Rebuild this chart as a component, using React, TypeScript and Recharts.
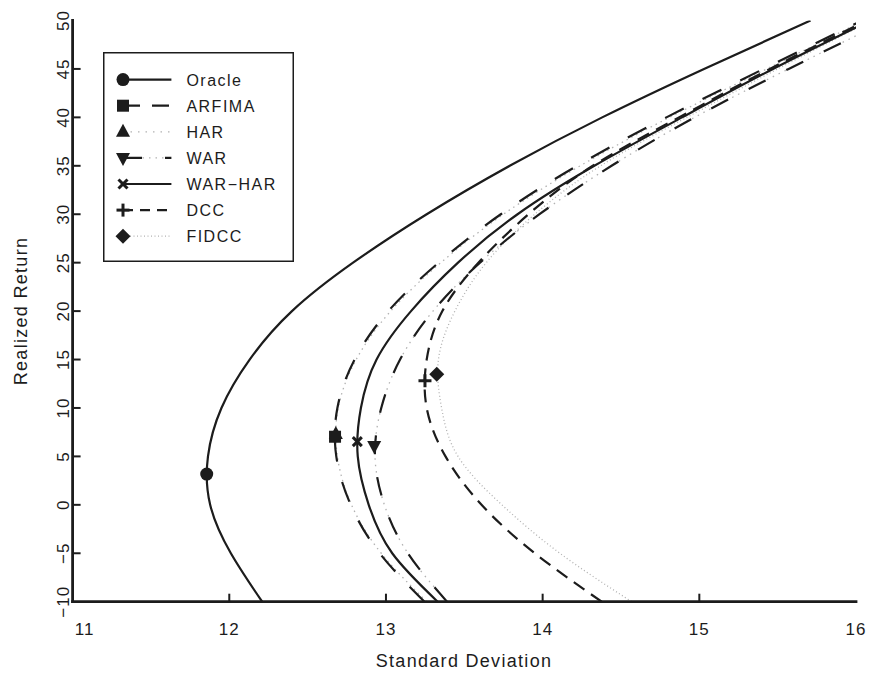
import { Legend, Line, LineChart, XAxis, YAxis } from 'recharts'

const returnGrid = [-10, -5, 0, 5, 10, 15, 20, 25, 30, 35, 40, 45, 50]
const xTicks = [11, 12, 13, 14, 15, 16]
const yTicks = [-10, -5, 0, 5, 10, 15, 20, 25, 30, 35, 40, 45, 50]

const oracleSd = [12.21, 12.01, 11.878, 11.864, 11.95, 12.13, 12.4, 12.79, 13.26, 13.79, 14.38, 15.03, 15.71]
const arfimaSd = [13.246, 12.96, 12.775, 12.683, 12.69, 12.8, 13.015, 13.336, 13.733, 14.22, 14.79, 15.41, 16.04]
const harSd = [13.26, 12.97, 12.78, 12.69, 12.695, 12.81, 13.03, 13.35, 13.75, 14.24, 14.81, 15.43, 16.05]
const warSd = [13.39, 13.14, 12.99, 12.93, 12.97, 13.09, 13.3, 13.6, 13.98, 14.44, 14.97, 15.57, 16.2]
const warHarSd = [13.33, 13.04, 12.89, 12.82, 12.84, 12.94, 13.16, 13.46, 13.84, 14.33, 14.89, 15.47, 16.09]
const dccSd = [14.377, 13.95, 13.61, 13.38, 13.26, 13.26, 13.36, 13.59, 13.91, 14.32, 14.87, 15.45, 16.07]
const fidccSd = [14.568, 14.11, 13.74, 13.46, 13.355, 13.335, 13.44, 13.64, 13.95, 14.37, 14.92, 15.5, 16.1]

// minimum variance point marked on each frontier
// order: Oracle, ARFIMA, HAR, WAR, WAR-HAR, DCC, FIDCC
const minSd = [11.856, 12.675, 12.68, 12.925, 12.817, 13.249, 13.324]
const minRet = [3.18, 7.03, 7.3, 6.07, 6.52, 12.81, 13.47]

const INK = '#1c1c1c'
const GRAY = '#b2b2b2'
const FONT = '"Liberation Sans", Arial, sans-serif'

type Shape = 'circle' | 'square' | 'triUp' | 'triDown' | 'cross' | 'plus' | 'diamond'

function Marker({ shape, cx, cy }: { shape: Shape; cx: number; cy: number }) {
  switch (shape) {
    case 'circle':
      return <circle cx={cx} cy={cy} r={6.5} fill={INK} />
    case 'square':
      return <rect x={cx - 6} y={cy - 6} width={12} height={12} fill={INK} />
    case 'triUp':
      return <polygon points={`${cx},${cy - 8} ${cx + 7},${cy + 5} ${cx - 7},${cy + 5}`} fill={INK} />
    case 'triDown':
      return <polygon points={`${cx},${cy + 8} ${cx + 7},${cy - 5} ${cx - 7},${cy - 5}`} fill={INK} />
    case 'cross':
      return (
        <g stroke={INK} strokeWidth={3}>
          <line x1={cx - 4.5} y1={cy - 4.5} x2={cx + 4.5} y2={cy + 4.5} />
          <line x1={cx - 4.5} y1={cy + 4.5} x2={cx + 4.5} y2={cy - 4.5} />
        </g>
      )
    case 'plus':
      return (
        <g stroke={INK} strokeWidth={3}>
          <line x1={cx - 6.5} y1={cy} x2={cx + 6.5} y2={cy} />
          <line x1={cx} y1={cy - 6.5} x2={cx} y2={cy + 6.5} />
        </g>
      )
    default:
      return <polygon points={`${cx},${cy - 7.5} ${cx + 7.5},${cy} ${cx},${cy + 7.5} ${cx - 7.5},${cy}`} fill={INK} />
  }
}

type Series = {
  name: string
  sd: number[]
  idx: number
  shape: Shape
  stroke: string
  width: number
  dash?: string
  legendDash?: string
  dots?: string
}

const series: Series[] = [
  { name: 'Oracle', sd: oracleSd, idx: 0, shape: 'circle', stroke: INK, width: 2.2 },
  { name: 'ARFIMA', sd: arfimaSd, idx: 1, shape: 'square', stroke: INK, width: 2.2, dash: '21 21', legendDash: '17 12' },
  { name: 'HAR', sd: harSd, idx: 2, shape: 'triUp', stroke: GRAY, width: 1.3, dash: '1.5 4', legendDash: '1.5 6' },
  { name: 'WAR', sd: warSd, idx: 3, shape: 'triDown', stroke: INK, width: 2.2, dash: '19 23', legendDash: '19 23', dots: '1.5 5' },
  { name: 'WAR\u2212HAR', sd: warHarSd, idx: 4, shape: 'cross', stroke: INK, width: 2.2 },
  { name: 'DCC', sd: dccSd, idx: 5, shape: 'plus', stroke: INK, width: 2.2, dash: '13 8', legendDash: '10 7' },
  { name: 'FIDCC', sd: fidccSd, idx: 6, shape: 'diamond', stroke: GRAY, width: 1.3, dash: '1 2.5', legendDash: '1 2.5' },
]

// light lines first so the black ones sit on top
const drawOrder = ['HAR', 'FIDCC', 'Oracle', 'ARFIMA', 'WAR', 'WAR\u2212HAR', 'DCC']
const markerOrder = ['HAR', 'ARFIMA', 'Oracle', 'WAR', 'WAR\u2212HAR', 'DCC', 'FIDCC']

const frontier = (s: Series) => returnGrid.map((ret, k) => ({ ret, sd: s.sd[k] }))
const minPoint = (s: Series) => [{ ret: minRet[s.idx], sd: minSd[s.idx] }]

const textStyle = { fontFamily: FONT, fill: INK, letterSpacing: 1 }

const BottomTick = (props: any) => {
  const { x, y, payload } = props
  const v = payload.value
  return (
    <g>
      {v !== 11 && v !== 16 && <line x1={x} y1={y} x2={x} y2={y - 8} stroke={INK} strokeWidth={2} />}
      <text x={v === 11 ? x + 12 : x} y={y + 33} textAnchor="middle" fontSize={17} style={textStyle}>
        {v}
      </text>
    </g>
  )
}

const TopTick = (props: any) => {
  const { x, y, payload } = props
  const v = payload.value
  if (v === 11 || v === 16) return <g />
  return <line x1={x} y1={y} x2={x} y2={y + 8} stroke={INK} strokeWidth={2} />
}

const LeftTick = (props: any) => {
  const { x, y, payload } = props
  const v = payload.value
  const label = v < 0 ? `\u2212${-v}` : `${v}`
  return (
    <g>
      {v !== -10 && v !== 50 && <line x1={x} y1={y} x2={x + 8} y2={y} stroke={INK} strokeWidth={2} />}
      <text x={x - 4} y={y} transform={`rotate(-90, ${x - 4}, ${y})`} textAnchor="middle" fontSize={17} style={textStyle}>
        {label}
      </text>
    </g>
  )
}

const RightTick = (props: any) => {
  const { x, y, payload } = props
  const v = payload.value
  if (v === -10 || v === 50) return <g />
  return <line x1={x - 8} y1={y} x2={x} y2={y} stroke={INK} strokeWidth={2} />
}

const renderLegend = () => (
  <svg width={191} height={210} style={{ display: 'block' }}>
    <rect x={0.75} y={0.75} width={189.5} height={208.5} fill="#fff" stroke={INK} strokeWidth={1.5} />
    {series.map((s, i) => {
      const y = 27.6 + i * 26.1
      return (
        <g key={s.name}>
          {s.dots && <line x1={20} x2={68.4} y1={y} y2={y} stroke={GRAY} strokeWidth={1.3} strokeDasharray={s.dots} />}
          <line x1={20} x2={68.4} y1={y} y2={y} stroke={s.stroke} strokeWidth={s.width} strokeDasharray={s.legendDash} />
          <Marker shape={s.shape} cx={20} cy={y} />
          <text x={83.4} y={y + 6} fontSize={16} style={{ ...textStyle, letterSpacing: 1.5 }}>
            {s.name}
          </text>
        </g>
      )
    })}
  </svg>
)

const axisLine = { stroke: INK, strokeWidth: 2.8, strokeLinecap: 'square' as const }

export default function App() {
  const byName = (n: string) => series.find((s) => s.name === n)!
  const ordered = drawOrder.map(byName)
  const markers = markerOrder.map(byName)
  return (
    <div style={{ position: 'absolute', left: 0, top: 0, width: 869, height: 673, background: '#fff' }}>
      <LineChart
        width={869}
        height={673}
        layout="vertical"
        margin={{ top: 20.5, right: 13, bottom: 0, left: 0 }}
      >
        <XAxis
          xAxisId="b"
          type="number"
          domain={[11, 16]}
          ticks={xTicks}
          allowDataOverflow
          height={71.3}
          tickSize={0}
          tickMargin={0}
          tickLine={false}
          axisLine={axisLine}
          tick={BottomTick}
          label={{
            content: () => (
              <text x={464} y={667} textAnchor="middle" fontSize={18} style={{ ...textStyle, letterSpacing: 1.3 }}>
                Standard Deviation
              </text>
            ),
          }}
        />
        <XAxis
          xAxisId="t"
          orientation="top"
          type="number"
          domain={[11, 16]}
          ticks={xTicks}
          allowDataOverflow
          height={0}
          tickSize={0}
          tickMargin={0}
          tickLine={false}
          axisLine={axisLine}
          tick={TopTick}
        />
        <YAxis
          yAxisId="l"
          dataKey="ret"
          type="number"
          domain={[-10, 50]}
          ticks={yTicks}
          reversed
          allowDataOverflow
          width={72.6}
          tickSize={0}
          tickMargin={0}
          tickLine={false}
          axisLine={axisLine}
          tick={LeftTick}
          label={{
            content: () => (
              <text
                x={27}
                y={311}
                transform="rotate(-90, 27, 311)"
                textAnchor="middle"
                fontSize={18}
                style={{ ...textStyle, letterSpacing: 1.3 }}
              >
                Realized Return
              </text>
            ),
          }}
        />
        <YAxis
          yAxisId="r"
          orientation="right"
          type="number"
          domain={[-10, 50]}
          ticks={yTicks}
          reversed
          allowDataOverflow
          width={0}
          tickSize={0}
          tickMargin={0}
          tickLine={false}
          axisLine={axisLine}
          tick={RightTick}
        />
        <Legend
          layout="vertical"
          align="center"
          verticalAlign="middle"
          content={renderLegend}
          wrapperStyle={{ left: 103.3, top: 51.7, width: 191, height: 210 }}
        />
        {ordered.map((s) =>
          s.dots ? (
            <Line
              key={`${s.name}-dots`}
              name={`${s.name} dots`}
              data={frontier(s)}
              dataKey="sd"
              xAxisId="b"
              yAxisId="l"
              type="natural"
              stroke={GRAY}
              strokeWidth={1.3}
              strokeDasharray={s.dots}
              dot={false}
              activeDot={false}
              legendType="none"
              isAnimationActive={false}
            />
          ) : null
        )}
        {ordered.map((s) => (
          <Line
            key={s.name}
            name={s.name}
            data={frontier(s)}
            dataKey="sd"
            xAxisId="b"
            yAxisId="l"
            type="natural"
            stroke={s.stroke}
            strokeWidth={s.width}
            strokeDasharray={s.dash}
            dot={false}
            activeDot={false}
            isAnimationActive={false}
          />
        ))}
        {markers.map((s) => (
          <Line
            key={`${s.name}-min`}
            name={`${s.name} min`}
            data={minPoint(s)}
            dataKey="sd"
            xAxisId="b"
            yAxisId="l"
            stroke="none"
            legendType="none"
            dot={(p: any) => <Marker key={`${s.name}-m-${p.index}`} shape={s.shape} cx={p.cx} cy={p.cy} />}
            activeDot={false}
            isAnimationActive={false}
          />
        ))}
      </LineChart>
    </div>
  )
}
